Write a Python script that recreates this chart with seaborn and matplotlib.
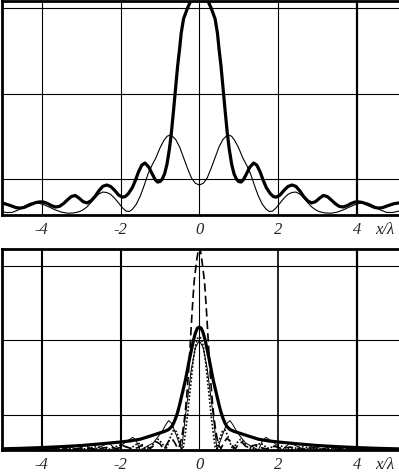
import numpy as np
import pandas as pd
import matplotlib
matplotlib.use("Agg")
import matplotlib.pyplot as plt
import seaborn as sns

# profiles are symmetric about x = 0, so only the right half is read off
# the picture and mirrored

# upper panel: thick curve (clipped at the top) and thin curve
top_thick_x = [0.0, 0.1, 0.2, 0.3, 0.4, 0.46, 0.5, 0.55, 0.6, 0.65, 0.71, 0.76, 0.82, 0.88,
               0.94, 1.0, 1.06, 1.12, 1.2, 1.28, 1.38, 1.46, 1.54, 1.62, 1.7, 1.8, 1.88,
               1.95, 2.05, 2.15, 2.25, 2.35, 2.45, 2.55, 2.65, 2.75, 2.85, 2.95, 3.05,
               3.15, 3.25, 3.35, 3.45, 3.55, 3.65, 3.75, 3.85, 3.95, 4.05, 4.15, 4.3,
               4.45, 4.55, 4.65, 4.8, 4.95, 5.07]
top_thick_y = [1.06, 1.055, 1.04, 1.0, 0.95, 0.883, 0.81, 0.73, 0.63, 0.53, 0.415, 0.34, 0.27,
               0.225, 0.20, 0.188, 0.186, 0.197, 0.225, 0.255, 0.275, 0.265, 0.235, 0.195,
               0.16, 0.132, 0.118, 0.115, 0.125, 0.147, 0.165, 0.172, 0.166, 0.145, 0.118,
               0.098, 0.088, 0.094, 0.11, 0.123, 0.118, 0.102, 0.085, 0.072, 0.069, 0.075,
               0.085, 0.092, 0.093, 0.09, 0.079, 0.067, 0.064, 0.066, 0.076, 0.085, 0.088]

top_thin_x = [0.0, 0.1, 0.2, 0.3, 0.4, 0.5, 0.6, 0.68, 0.75, 0.82, 0.9, 1.0, 1.1, 1.2,
              1.3, 1.4, 1.5, 1.6, 1.7, 1.78, 1.86, 1.95, 2.05, 2.15, 2.25, 2.35, 2.45,
              2.55, 2.65, 2.75, 2.85, 2.95, 3.05, 3.2, 3.35, 3.5, 3.65, 3.8, 3.95, 4.1,
              4.2, 4.3, 4.45, 4.6, 4.75, 4.9, 5.07]
top_thin_y = [0.172, 0.18, 0.205, 0.25, 0.30, 0.35, 0.385, 0.40, 0.405, 0.40, 0.38, 0.345,
              0.30, 0.265, 0.225, 0.17, 0.12, 0.082, 0.058, 0.048, 0.05, 0.065, 0.088, 0.11,
              0.128, 0.137, 0.139, 0.13, 0.112, 0.09, 0.07, 0.056, 0.047, 0.041, 0.04, 0.045,
              0.055, 0.068, 0.08, 0.088, 0.09, 0.086, 0.072, 0.055, 0.044, 0.043, 0.05]

# lower panel
bot_thick_x = [0.0, 0.05, 0.1, 0.15, 0.2, 0.25, 0.3, 0.35, 0.4, 0.45, 0.5, 0.55, 0.6, 0.65,
               0.7, 0.78, 0.88, 1.0, 1.2, 1.5, 1.75, 2.0, 2.5, 3.0, 3.5, 4.0, 4.5, 5.07]
bot_thick_y = [0.672, 0.665, 0.64, 0.60, 0.55, 0.50, 0.445, 0.39, 0.345, 0.30, 0.255, 0.215,
               0.183, 0.157, 0.138, 0.122, 0.112, 0.104, 0.09, 0.07, 0.061, 0.055, 0.045,
               0.036, 0.03, 0.025, 0.021, 0.018]

bot_dash_x = [0.0, 0.03, 0.06, 0.09, 0.13, 0.16, 0.19, 0.22, 0.25, 0.28, 0.32, 0.36, 0.4,
              0.45, 0.5, 0.55, 0.62, 0.7, 0.78, 0.86, 0.92, 1.0, 1.08, 1.16, 1.25, 1.35,
              1.45, 1.55, 1.7, 1.9, 2.1, 2.3, 2.6, 2.9, 3.3, 3.7, 4.1, 4.6, 5.07]
bot_dash_y = [1.10, 1.08, 1.04, 0.99, 0.92, 0.83, 0.73, 0.62, 0.51, 0.41, 0.30, 0.21, 0.14,
              0.075, 0.035, 0.02, 0.05, 0.075, 0.06, 0.03, 0.02, 0.045, 0.055, 0.035, 0.02,
              0.035, 0.04, 0.025, 0.018, 0.032, 0.02, 0.028, 0.016, 0.024, 0.015, 0.02,
              0.014, 0.018, 0.015]

bot_dot_x = [0.0, 0.05, 0.1, 0.15, 0.2, 0.25, 0.3, 0.35, 0.4, 0.44, 0.5, 0.58, 0.65, 0.72,
             0.8, 0.85, 0.95, 1.05, 1.15, 1.25, 1.35, 1.55, 1.75, 2.0, 2.3, 2.6, 3.0, 3.5,
             4.0, 4.5, 5.07]
bot_dot_y = [0.62, 0.61, 0.57, 0.50, 0.40, 0.30, 0.20, 0.11, 0.03, 0.015, 0.06, 0.11, 0.12,
             0.09, 0.04, 0.015, 0.05, 0.07, 0.05, 0.02, 0.015, 0.05, 0.02, 0.04, 0.015, 0.03,
             0.015, 0.025, 0.014, 0.02, 0.015]

bot_thin_x = [0.0, 0.1, 0.2, 0.35, 0.45, 0.6, 0.7, 0.78, 0.86, 0.95, 1.17, 1.5, 1.6, 1.69,
              1.9, 2.1, 2.3, 2.5, 2.7, 2.9, 3.1, 3.3, 3.5, 3.7, 3.9, 4.1, 4.3, 4.5, 4.7,
              4.9, 5.07]
bot_thin_y = [0.60, 0.56, 0.45, 0.20, 0.012, 0.10, 0.155, 0.17, 0.145, 0.11, 0.05, 0.012,
              0.06, 0.08, 0.05, 0.012, 0.05, 0.03, 0.012, 0.04, 0.015, 0.03, 0.012, 0.028,
              0.012, 0.025, 0.012, 0.022, 0.012, 0.02, 0.015]

x_ticks = [-4, -2, 0, 2, 4]
x_tick_labels = ["-4", "-2", "0", "2", "4"]
y_grid = [0.2, 0.6, 1.0]

serif = ["Liberation Serif", "DejaVu Serif"]


def mirror(xs, ys):
    xs = np.asarray(xs, dtype=float)
    ys = np.asarray(ys, dtype=float)
    return pd.DataFrame({"x": np.concatenate([-xs[:0:-1], xs]),
                         "y": np.concatenate([ys[:0:-1], ys])})


sns.set_theme(style="white")
plt.rcParams["font.family"] = serif

fig = plt.figure(figsize=(3.99, 4.72), dpi=100)
ax_top = fig.add_axes([2 / 399, (472 - 215) / 472, 397 / 399, 214 / 472])
ax_bot = fig.add_axes([2 / 399, (472 - 450) / 472, 397 / 399, 201 / 472])

line_kw = dict(color="black", estimator=None, sort=False, legend=False)
sns.lineplot(data=mirror(top_thin_x, top_thin_y), x="x", y="y", ax=ax_top, lw=0.8, **line_kw)
sns.lineplot(data=mirror(top_thick_x, top_thick_y), x="x", y="y", ax=ax_top, lw=2.3, **line_kw)

sns.lineplot(data=mirror(bot_thin_x, bot_thin_y), x="x", y="y", ax=ax_bot, lw=0.7, **line_kw)
sns.lineplot(data=mirror(bot_dot_x, bot_dot_y), x="x", y="y", ax=ax_bot, lw=1.2,
             linestyle=(0, (1, 1.2)), **line_kw)
sns.lineplot(data=mirror(bot_dash_x, bot_dash_y), x="x", y="y", ax=ax_bot, lw=1.2,
             linestyle=(0, (5, 2.5)), **line_kw)
sns.lineplot(data=mirror(bot_thick_x, bot_thick_y), x="x", y="y", ax=ax_bot, lw=2.3, **line_kw)

ax_top.set_ylim(0.0316, 1.033)
ax_bot.set_ylim(0.012, 1.091)

for ax, vlw in ((ax_top, [0.8, 0.8, 0.8, 0.8, 1.6]), (ax_bot, [1.5, 1.5, 0.8, 1.2, 1.6])):
    ax.set_xlim(-5.01, 5.07)
    ax.set_xticks(x_ticks)
    ax.set_xticklabels(x_tick_labels, fontstyle="italic", fontsize=12, family=serif)
    ax.set_yticks(y_grid)
    ax.set_yticklabels([])
    ax.set_xlabel("")
    ax.set_ylabel("")
    ax.tick_params(length=0, pad=5)
    ax.grid(True, color="black", lw=0.8)
    for gl, w in zip(ax.get_xgridlines(), vlw):
        gl.set_linewidth(w)
    for side in ("top", "left", "bottom"):
        ax.spines[side].set_color("black")
        ax.spines[side].set_linewidth(2.0)
    ax.spines["right"].set_visible(False)
    ax.set_facecolor("white")
    ax.annotate("x/\u03bb", xy=(4.72, 0), xycoords=("data", "axes fraction"),
                xytext=(0, -5), textcoords="offset points", ha="center", va="top",
                fontstyle="italic", fontsize=12, family=serif)

fig.savefig("out.png", dpi=100, facecolor="white")
